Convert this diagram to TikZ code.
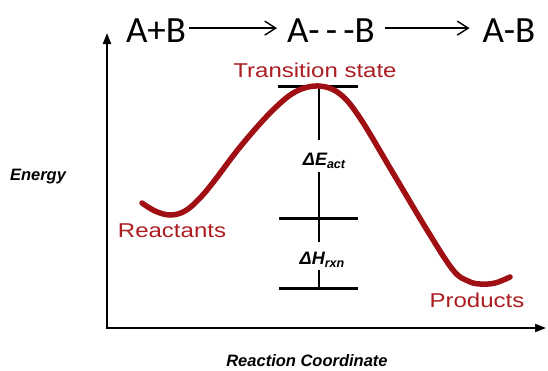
\documentclass[tikz,border=0pt]{standalone}
\usepackage{fontspec}
\setmainfont{Liberation Sans}
\newfontfamily\calib{Carlito}
\usetikzlibrary{arrows.meta,calc}
\definecolor{curvered}{RGB}{160,15,20}
\definecolor{labred}{RGB}{172,28,32}
\newcommand\widetext[1]{\scalebox{1.2}[1]{#1}}
\newcommand\lowsub[1]{\raisebox{-3.5pt}{\fontsize{12.5}{13}\selectfont #1}}
\begin{document}
\begin{tikzpicture}[x=1pt,y=-1pt,
  axis/.style={line width=2pt,-{Triangle[length=11pt,width=8pt]}},
  levelbar/.style={line width=3pt},
  gapline/.style={line width=1.2pt},
  curve/.style={curvered,line width=5.5pt,line cap=round},
  rxnarrow/.style={line width=1.4pt,-{Straight Barb[length=11pt,width=14pt,line width=1.4pt]}},
  eq/.style={font=\calib\fontsize{37}{40}\selectfont,inner sep=0pt,anchor=base},
  lab/.style={text=labred,font=\fontsize{20}{22}\selectfont,inner sep=0pt,anchor=base},
  dl/.style={font=\bfseries\itshape\fontsize{18}{20}\selectfont,inner sep=0pt,anchor=base},
  axl/.style={font=\bfseries\itshape\fontsize{16.5}{18}\selectfont,inner sep=0pt,anchor=base}]
\useasboundingbox (0,0) rectangle (548,370);

% axes
\coordinate (O) at (107,329);
\coordinate (ytip) at (107,33);
\coordinate (xtip) at (546,328);
\draw[axis] (107,329) -- (ytip);
\draw[axis] (106,328) -- (xtip);

% level bars
\coordinate (t1) at (278,86);  \coordinate (t2) at (358,86);
\coordinate (m1) at (279,218); \coordinate (m2) at (358,218);
\coordinate (b1) at (279,288); \coordinate (b2) at (358,288);
\draw[levelbar] (t1) -- (t2);
\draw[levelbar] (m1) -- (m2);
\draw[levelbar] (b1) -- (b2);

% vertical gap line
\coordinate (v1) at (319,86);  \coordinate (v2) at (319,140);
\coordinate (v3) at (319,172); \coordinate (v4) at (319,242);
\coordinate (v5) at (319,270); \coordinate (v6) at (319,288);
\draw[gapline] (v1) -- (v2);
\draw[gapline] (v3) -- (v4);
\draw[gapline] (v5) -- (v6);

% energy curve
\draw[curve] plot[smooth,tension=0.6] coordinates {
  (142,203) (155,211) (170,215) (185,211) (200,198) (215,180) (240,147)
  (270,113) (295,92) (319,86) (340,94) (360,118) (393,173) (427,230)
  (453,270) (468,281) (480,284) (495,283) (510,277)};

% labels
\node[lab] (ts) at (315,77) {\widetext{Transition state}};
\node[lab] (re) at (172,237) {\widetext{Reactants}};
\node[lab] (pr) at (477,307) {\widetext{Products}};
\node[dl] (ea) at (324,165) {ΔE\lowsub{act}};
\node[dl] (hr) at (322,264) {ΔH\lowsub{rxn}};
\node[axl] (en) at (38,180) {Energy};
\node[axl] (rc) at (307,366) {Reaction Coordinate};

% reaction scheme
\node[eq] (ab) at (156,42) {A+B};
\node[eq] (tsx) at (331,42) {A-\,-\,-B};
\node[eq] (prod) at (509,42) {A-B};
\draw[rxnarrow] ($(ab.east)+(3,-2)$) -- ($(tsx.west)+(-10,-2)$);
\draw[rxnarrow] ($(tsx.east)+(10,-2)$) -- ($(prod.west)+(-13,-2)$);
\end{tikzpicture}
\end{document}
